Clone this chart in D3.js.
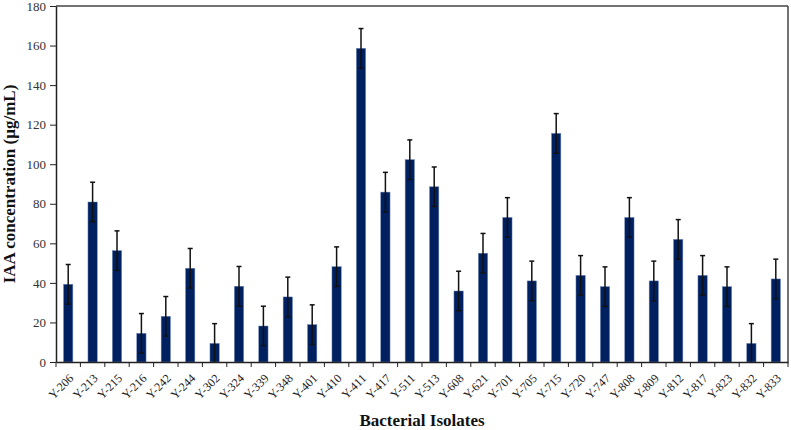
<!DOCTYPE html>
<html>
<head>
<meta charset="utf-8">
<script src="https://cdn.jsdelivr.net/npm/d3@7/dist/d3.min.js"></script>
<style>
  html, body { margin: 0; padding: 0; background: #fff; }
  svg { display: block; }
</style>
</head>
<body>
<svg id="chart" width="791" height="430"></svg>
<script>
const categories = ["Y-206","Y-213","Y-215","Y-216","Y-242","Y-244","Y-302","Y-324","Y-339","Y-348","Y-401","Y-410","Y-411","Y-417","Y-511","Y-513","Y-608","Y-621","Y-701","Y-705","Y-715","Y-720","Y-747","Y-808","Y-809","Y-812","Y-817","Y-823","Y-832","Y-833"];
const values = [39.3,80.9,56.3,14.5,23.1,47.4,9.4,38.3,18.2,32.9,18.9,48.2,158.6,85.9,102.3,88.6,35.9,55.0,73.1,41.0,115.6,43.8,38.1,73.1,41.0,62.0,43.8,38.1,9.4,42.0];
const errors = [10,10,10,10,10,10,10,10,10,10,10,10,10,10,10,10,10,10,10,10,10,10,10,10,10,10,10,10,10,10];
const yTicks = [0,20,40,60,80,100,120,140,160,180];
const xTitle = "Bacterial Isolates";
const yTitle = "IAA concentration (µg/mL)";

const svg = d3.select("#chart");
const m = {left: 56, right: 3, top: 6, bottom: 68};
const W = 791, H = 430;
const x = d3.scaleBand().domain(categories).range([m.left, W - m.right]).paddingInner(0.62).paddingOuter(0.31);
const y = d3.scaleLinear().domain([0, 180]).range([H - m.bottom, m.top]);

const serif = "'Liberation Serif', 'Times New Roman', serif";

// frame top/right
svg.append("line").attr("x1", m.left).attr("x2", W - m.right).attr("y1", m.top).attr("y2", m.top)
  .attr("stroke", "#444").attr("stroke-width", 1.5);
svg.append("line").attr("x1", W - m.right).attr("x2", W - m.right).attr("y1", m.top).attr("y2", H - m.bottom)
  .attr("stroke", "#444").attr("stroke-width", 1.5);

// bars
svg.append("g").selectAll("rect").data(categories).join("rect")
  .attr("x", d => x(d))
  .attr("width", x.bandwidth())
  .attr("y", (d, i) => y(values[i]))
  .attr("height", (d, i) => y(0) - y(values[i]))
  .attr("fill", "#002060")
  .attr("stroke", "#6f85b5").attr("stroke-width", 0.5);

// error bars
const eg = svg.append("g").attr("stroke", "#111").attr("stroke-width", 1.5);
categories.forEach((c, i) => {
  const cx = x(c) + x.bandwidth() / 2;
  const lo = Math.max(0, values[i] - errors[i]);
  const hi = values[i] + errors[i];
  eg.append("line").attr("x1", cx).attr("x2", cx).attr("y1", y(lo)).attr("y2", y(hi));
  eg.append("line").attr("x1", cx - 2.5).attr("x2", cx + 2.5).attr("y1", y(hi)).attr("y2", y(hi));
  if (values[i] - errors[i] > 0)
    eg.append("line").attr("x1", cx - 2.5).attr("x2", cx + 2.5).attr("y1", y(lo)).attr("y2", y(lo));
});

// y axis
const yAxis = svg.append("g").attr("transform", `translate(${m.left},0)`)
  .call(d3.axisLeft(y).tickValues(yTicks).tickSize(6).tickPadding(4).tickSizeOuter(0));
yAxis.select(".domain").attr("stroke", "#222").attr("stroke-width", 1.5);
yAxis.selectAll(".tick line").attr("stroke", "#222");
yAxis.selectAll(".tick text").attr("font-family", serif).attr("font-size", 13).attr("fill", "#333");

// x axis
const xAxis = svg.append("g").attr("transform", `translate(0,${H - m.bottom})`)
  .call(d3.axisBottom(x).tickSize(0).tickFormat(""));
xAxis.select(".domain").attr("stroke", "#222").attr("stroke-width", 1.5);
xAxis.selectAll(".tick").remove();
const step = x.step();
const bounds = d3.range(categories.length + 1).map(i => m.left + i * step);
svg.append("g").selectAll("line").data(bounds).join("line")
  .attr("x1", d => d).attr("x2", d => d)
  .attr("y1", H - m.bottom).attr("y2", H - m.bottom + 5)
  .attr("stroke", "#222");

svg.append("g").selectAll("text").data(categories).join("text")
  .attr("transform", d => `translate(${x(d) + x.bandwidth() / 2 + 6},${H - m.bottom + 17}) rotate(-45)`)
  .attr("text-anchor", "end")
  .attr("font-family", serif).attr("font-size", 12).attr("fill", "#222")
  .text(d => d);

// titles
svg.append("text").attr("x", (m.left + W - m.right) / 2).attr("y", 426)
  .attr("text-anchor", "middle").attr("font-family", serif).attr("font-weight", "bold")
  .attr("font-size", 17).attr("fill", "#111").text(xTitle);
svg.append("text").attr("transform", `translate(15,${(m.top + H - m.bottom) / 2}) rotate(-90)`)
  .attr("text-anchor", "middle").attr("font-family", serif).attr("font-weight", "bold")
  .attr("font-size", 17).attr("fill", "#111").text(yTitle);
</script>
</body>
</html>
